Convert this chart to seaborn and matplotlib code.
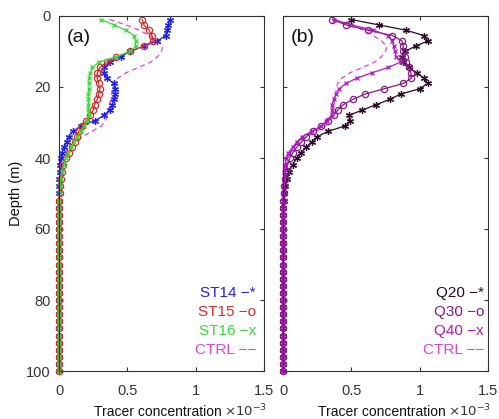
import matplotlib
matplotlib.use("Agg")
import matplotlib.pyplot as plt
import seaborn as sns

# depth levels (m)
depth = [1, 2.5, 4, 5.5, 7, 8.5, 10, 11.5, 13, 14.5, 16, 17.5, 19, 20.5, 22, 23.5,
         25, 26.5, 28, 29.5, 31, 32.5, 34, 35.5, 37, 38.5, 40,
         42, 44, 46, 48, 50, 52, 54, 56, 58, 60, 62, 64, 66, 68, 70, 72, 74, 76,
         78, 80, 82, 84, 86, 88, 90, 92, 94, 96, 98, 100]

# tracer concentration (x 1e-3)
st14 = [0.81, 0.80, 0.79, 0.78, 0.72, 0.62, 0.52, 0.45, 0.37, 0.33, 0.33, 0.35, 0.40, 0.41,
        0.41, 0.40, 0.39, 0.37, 0.33, 0.26, 0.16, 0.10, 0.07, 0.055, 0.037, 0.022, 0.013,
        0.008, 0.005, 0.003, 0.002, 0.001, 0, 0, 0, 0, 0, 0, 0, 0, 0, 0, 0, 0, 0,
        0, 0, 0, 0, 0, 0, 0, 0, 0, 0, 0, 0]
st15 = [0.61, 0.62, 0.66, 0.68, 0.69, 0.62, 0.52, 0.42, 0.35, 0.30, 0.28, 0.28, 0.29, 0.30,
        0.29, 0.28, 0.26, 0.25, 0.23, 0.20, 0.17, 0.145, 0.13, 0.115, 0.095, 0.075, 0.05,
        0.032, 0.02, 0.012, 0.007, 0.004, 0.002, 0, 0, 0, 0, 0, 0, 0, 0, 0, 0, 0, 0,
        0, 0, 0, 0, 0, 0, 0, 0, 0, 0, 0, 0]
st16 = [0.31, 0.40, 0.49, 0.55, 0.56, 0.56, 0.52, 0.42, 0.29, 0.245, 0.23, 0.22, 0.22, 0.22,
        0.215, 0.215, 0.215, 0.215, 0.22, 0.205, 0.185, 0.16, 0.135, 0.11, 0.088, 0.065, 0.05,
        0.035, 0.022, 0.013, 0.008, 0.005, 0.003, 0.001, 0, 0, 0, 0, 0, 0, 0, 0, 0, 0, 0,
        0, 0, 0, 0, 0, 0, 0, 0, 0, 0, 0, 0]
ctrl = [0.37, 0.49, 0.59, 0.66, 0.72, 0.76, 0.75, 0.72, 0.67, 0.58, 0.49, 0.43, 0.40, 0.39,
        0.385, 0.38, 0.37, 0.365, 0.355, 0.34, 0.31, 0.24, 0.17, 0.11, 0.07, 0.048, 0.034,
        0.024, 0.016, 0.01, 0.006, 0.004, 0.002, 0, 0, 0, 0, 0, 0, 0, 0, 0, 0, 0, 0,
        0, 0, 0, 0, 0, 0, 0, 0, 0, 0, 0, 0]
q20 = [0.50, 0.70, 0.90, 1.03, 1.06, 0.97, 0.89, 0.87, 0.88, 0.92, 0.98, 1.03, 1.06, 1.00,
       0.86, 0.78, 0.68, 0.58, 0.48, 0.49, 0.45, 0.33, 0.25, 0.21, 0.17, 0.13, 0.10,
       0.07, 0.045, 0.03, 0.018, 0.01, 0.006, 0.003, 0.001, 0, 0, 0, 0, 0, 0, 0, 0, 0, 0,
       0, 0, 0, 0, 0, 0, 0, 0, 0, 0, 0, 0]
q30 = [0.36, 0.46, 0.62, 0.80, 0.87, 0.88, 0.88, 0.89, 0.90, 0.92, 0.935, 0.94, 0.88, 0.74,
       0.60, 0.51, 0.44, 0.40, 0.37, 0.33, 0.28, 0.22, 0.17, 0.135, 0.10, 0.072, 0.05,
       0.033, 0.02, 0.012, 0.007, 0.004, 0.002, 0, 0, 0, 0, 0, 0, 0, 0, 0, 0, 0, 0,
       0, 0, 0, 0, 0, 0, 0, 0, 0, 0, 0, 0]
q40 = [0.37, 0.50, 0.66, 0.77, 0.80, 0.81, 0.82, 0.83, 0.86, 0.77, 0.65, 0.54, 0.46, 0.41,
       0.39, 0.37, 0.36, 0.36, 0.355, 0.32, 0.28, 0.21, 0.14, 0.10, 0.07, 0.04, 0.025,
       0.015, 0.009, 0.005, 0.003, 0.001, 0, 0, 0, 0, 0, 0, 0, 0, 0, 0, 0, 0, 0,
       0, 0, 0, 0, 0, 0, 0, 0, 0, 0, 0, 0]

xticks = [0, 0.5, 1, 1.5]
yticks = [0, 20, 40, 60, 80, 100]

sns.set_style("ticks")
plt.rcParams['font.family'] = ['Liberation Sans', 'DejaVu Sans']

ASTER = (6, 2, 0)

fig = plt.figure(figsize=(4.99, 4.19), dpi=100)
ax1 = fig.add_axes([59 / 499, 48 / 419, 205 / 499, 355 / 419])
ax2 = fig.add_axes([283 / 499, 48 / 419, 205 / 499, 355 / 419])


def profile(ax, x, color, marker=None, ms=4.5, ls='-'):
    kw = dict(x=x, y=depth, sort=False, estimator=None, ax=ax, color=color,
              linewidth=0.9, linestyle=ls, clip_on=False)
    if marker is not None:
        kw.update(marker=marker, markersize=ms, markeredgecolor=color,
                  markerfacecolor='none', markeredgewidth=0.9)
    sns.lineplot(**kw)


# panel (a)
profile(ax1, ctrl, '#dd44dd', ls=(0, (4, 3)))
profile(ax1, st14, '#2020ee', ASTER, 5)
profile(ax1, st15, '#e02828', 'o', 4.5)
profile(ax1, st16, '#33dd33', 'x', 3.5)

# panel (b)
profile(ax2, ctrl, '#e040e0', ls=(0, (4, 3)))
profile(ax2, q20, '#2a0a2a', ASTER, 5)
profile(ax2, q30, '#861a86', 'o', 4.5)
profile(ax2, q40, '#b418c4', 'x', 3.5)

leg_a = [("ST14 \u2212*", '#2020ee'), ("ST15 \u2212o", '#e02828'),
         ("ST16 \u2212x", '#33dd33'), ("CTRL \u2212\u2212", '#dd44dd')]
leg_b = [("Q20 \u2212*", '#2a0a2a'), ("Q30 \u2212o", '#861a86'),
         ("Q40 \u2212x", '#b418c4'), ("CTRL \u2212\u2212", '#e040e0')]

for ax, tag, leg, xr in [(ax1, "(a)", leg_a, 0.96), (ax2, "(b)", leg_b, 0.98)]:
    ax.set_xlim(0, 1.5)
    ax.set_ylim(100, 0)
    ax.set_xticks(xticks)
    ax.set_xticklabels(["0", "0.5", "1", "1.5"])
    ax.set_yticks(yticks)
    ax.tick_params(direction='in', length=3, width=0.8, top=True, right=True,
                   labelsize=10.5, colors='#333333', labelcolor='#333333')
    ax.tick_params(axis='x', pad=9)
    ax.tick_params(axis='y', pad=6)
    for s in ax.spines.values():
        s.set_color('#333333')
        s.set_linewidth(0.8)
    ax.set_xlabel("Tracer concentration", fontsize=10, labelpad=2, color='#111111')
    ax.xaxis.set_label_coords(0.48, -0.095)
    ax.set_ylabel("")
    ax.text(1.015, -0.112, r"$\times 10^{-3}$", transform=ax.transAxes, ha='right',
            va='center', fontsize=9.5, color='#333333')
    ax.text(0.04, 0.94, tag, transform=ax.transAxes, fontsize=14, va='center',
            ha='left', color='#111111')
    for i, (lab, col) in enumerate(leg):
        ax.text(xr, 0.22 - i * 0.054, lab, transform=ax.transAxes, ha='right',
                va='center', fontsize=11, color=col)

ax1.set_ylabel("Depth (m)", fontsize=10.5, labelpad=2, color='#111111')
ax2.set_yticklabels([])

fig.savefig("out.png", dpi=100)
